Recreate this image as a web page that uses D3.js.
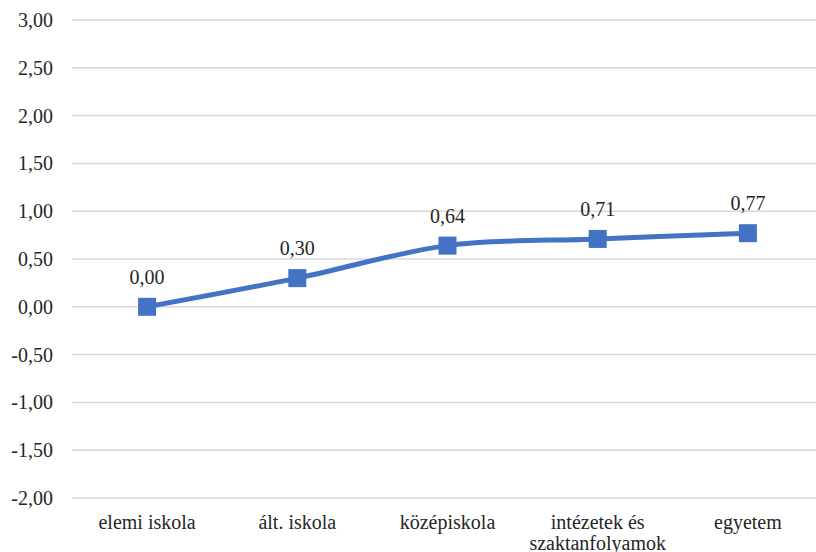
<!DOCTYPE html>
<html>
<head>
<meta charset="utf-8">
<script src="https://cdn.jsdelivr.net/npm/d3@7"></script>
<style>
  body { margin: 0; background: #fff; }
</style>
</head>
<body>
<div id="chart"></div>
<script>
const categories = ["elemi iskola", "ált. iskola", "középiskola", "intézetek és\nszaktanfolyamok", "egyetem"];
const values = [0.00, 0.30, 0.64, 0.71, 0.77];
const yTicks = [-2, -1.5, -1, -0.5, 0, 0.5, 1, 1.5, 2, 2.5, 3];

const W = 816, H = 552;
const margin = {top: 20, right: 0, bottom: 54, left: 72};
const plotRight = 823;
const serif = "Liberation Serif";
const ink = "#262626";

const svg = d3.select("#chart").append("svg")
  .attr("width", W)
  .attr("height", H)
  .attr("font-family", serif);

const x = d3.scaleBand().domain(categories).range([margin.left, plotRight]);
const y = d3.scaleLinear().domain([-2, 3]).range([498, 20]);

const fmt = v => v.toFixed(2).replace(".", ",");

// gridlines
svg.append("g")
  .selectAll("line")
  .data(yTicks)
  .join("line")
    .attr("x1", margin.left)
    .attr("x2", plotRight)
    .attr("y1", d => y(d))
    .attr("y2", d => y(d))
    .attr("stroke", "#d9d9d9")
    .attr("stroke-width", 1.5);

// y axis labels
const yAxis = d3.axisLeft(y).tickValues(yTicks).tickFormat(fmt).tickSize(0).tickPadding(0);
svg.append("g")
  .attr("transform", "translate(53,0)")
  .call(yAxis)
  .attr("font-family", serif)
  .attr("font-size", 20)
  .call(g => g.select(".domain").remove())
  .selectAll("text")
    .attr("font-family", serif)
    .attr("font-size", 20)
    .attr("fill", ink);

// x axis labels
const xl = svg.append("g")
  .selectAll("text")
  .data(categories)
  .join("text")
    .attr("x", d => x(d) + x.bandwidth() / 2)
    .attr("y", 529)
    .attr("text-anchor", "middle")
    .attr("font-family", serif)
    .attr("font-size", 20)
    .attr("fill", ink);
xl.each(function(d) {
  const lines = d.split("\n");
  d3.select(this).selectAll("tspan")
    .data(lines)
    .join("tspan")
      .attr("x", x(d) + x.bandwidth() / 2)
      .attr("dy", (l, i) => i === 0 ? 0 : 21)
      .text(l => l);
});

const pts = categories.map((c, i) => [x(c) + x.bandwidth() / 2, y(values[i])]);

const line = d3.line().curve(d3.curveCatmullRom.alpha(0));
svg.append("path")
  .attr("d", line(pts))
  .attr("fill", "none")
  .attr("stroke", "#4472C4")
  .attr("stroke-width", 5)
  .attr("stroke-linecap", "round");

svg.append("g")
  .selectAll("rect")
  .data(pts)
  .join("rect")
    .attr("x", d => d[0] - 9)
    .attr("y", d => d[1] - 9)
    .attr("width", 18)
    .attr("height", 18)
    .attr("fill", "#4472C4");

svg.append("g")
  .selectAll("text")
  .data(values)
  .join("text")
    .attr("x", (d, i) => pts[i][0])
    .attr("y", (d, i) => pts[i][1] - 23)
    .attr("text-anchor", "middle")
    .attr("font-family", serif)
    .attr("font-size", 20)
    .attr("fill", ink)
    .text(d => fmt(d));
</script>
</body>
</html>
